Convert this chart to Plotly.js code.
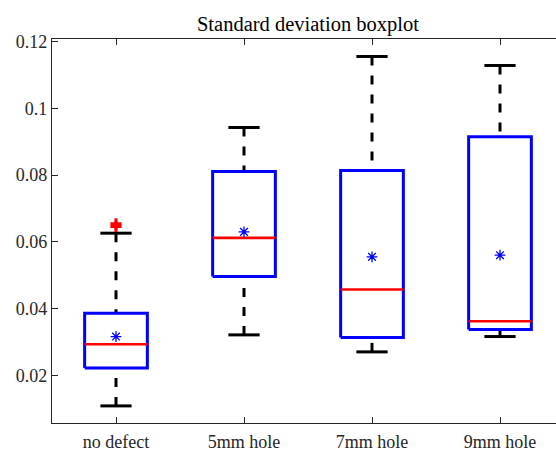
<!DOCTYPE html>
<html>
<head>
<meta charset="utf-8">
<script src="https://cdn.plot.ly/plotly-3.0.1.min.js"></script>
<style>
  html, body { margin: 0; padding: 0; background: #fff; overflow: hidden; }
  #chart { width: 565px; height: 449px; }
</style>
</head>
<body>
<div id="chart"></div>
<script>
// Groups and their five-number summaries (standard deviation of the signal)
const categories   = ['no defect', '5mm hole', '7mm hole', '9mm hole'];
const lowerWhisker = [0.0108, 0.0321, 0.0270, 0.0316];
const q1           = [0.0222, 0.0496, 0.0313, 0.0337];
const medians      = [0.0293, 0.0612, 0.0457, 0.0362];
const q3           = [0.0386, 0.0811, 0.0814, 0.0915];
const upperWhisker = [0.0626, 0.0943, 0.1156, 0.1129];
const means        = [0.0316, 0.0630, 0.0555, 0.0560];
// Outliers as [group index, value]
const outlierGroup = [0, 0];
const outlierValue = [0.0646, 0.0654];

const yTickVals  = [0.02, 0.04, 0.06, 0.08, 0.1, 0.12];
const yTickText  = ['0.02', '0.04', '0.06', '0.08', '0.1', '0.12'];

// Geometry of each box glyph, in x-axis units
const BOX_HALF = 0.245;
const CAP_HALF = 0.122;

const SERIF = 'Liberation Serif';

const pos = categories.map((_, i) => i + 1);

function segs(builder) {
  const xs = [], ys = [];
  pos.forEach((p, i) => {
    const s = builder(p, i);
    xs.push(...s.x, null);
    ys.push(...s.y, null);
  });
  return { x: xs, y: ys };
}

const whiskers = segs((p, i) => ({
  x: [p, p, null, p, p],
  y: [upperWhisker[i], q3[i], null, lowerWhisker[i], q1[i]]
}));
const boxes = segs((p, i) => ({
  x: [p - BOX_HALF, p + BOX_HALF, p + BOX_HALF, p - BOX_HALF, p - BOX_HALF],
  y: [q1[i], q1[i], q3[i], q3[i], q1[i]]
}));
const medianLines = segs((p, i) => ({
  x: [p - BOX_HALF, p + BOX_HALF],
  y: [medians[i], medians[i]]
}));
const caps = segs((p, i) => ({
  x: [p - CAP_HALF, p + CAP_HALF, null, p - CAP_HALF, p + CAP_HALF],
  y: [upperWhisker[i], upperWhisker[i], null, lowerWhisker[i], lowerWhisker[i]]
}));

const traces = [
  { type: 'scatter', mode: 'lines', x: whiskers.x, y: whiskers.y,
    line: { color: '#000', width: 3, dash: '9px,10px' }, hoverinfo: 'skip' },
  { type: 'scatter', mode: 'lines', x: boxes.x, y: boxes.y,
    line: { color: '#0000ff', width: 3 }, hoverinfo: 'skip' },
  { type: 'scatter', mode: 'lines', x: medianLines.x, y: medianLines.y,
    line: { color: '#ff0000', width: 2.6 }, hoverinfo: 'skip' },
  { type: 'scatter', mode: 'lines', x: caps.x, y: caps.y,
    line: { color: '#000', width: 3 }, hoverinfo: 'skip' },
  { type: 'scatter', mode: 'markers', x: pos, y: means,
    marker: { symbol: 'asterisk-open', size: 9, color: '#0000ff',
              line: { color: '#0000ff', width: 1.3 } } },
  { type: 'scatter', mode: 'markers',
    x: outlierGroup.map(g => pos[g]), y: outlierValue,
    marker: { symbol: 'cross-thin-open', size: 8, color: '#ff0000',
              line: { color: '#ff0000', width: 3 } } }
];

const axisCommon = {
  showline: true, linecolor: '#262626', linewidth: 1.2,
  mirror: 'ticks', ticks: 'inside', ticklen: 6, tickwidth: 1,
  tickcolor: '#262626', showgrid: false, zeroline: false,
  tickfont: { family: SERIF, size: 18, color: '#262626' }
};

const layout = {
  width: 565, height: 449,
  margin: { l: 52, r: 1, t: 39, b: 26 },
  paper_bgcolor: '#fff', plot_bgcolor: '#fff',
  font: { family: SERIF },
  showlegend: false,
  title: {
    text: 'Standard deviation boxplot',
    font: { family: SERIF, size: 20.5, color: '#000' },
    x: 0.5, xref: 'paper', y: 1 - 24 / 449, yref: 'container', yanchor: 'middle'
  },
  xaxis: Object.assign({}, axisCommon, {
    range: [0.5, 4.5], tickvals: pos, ticktext: categories, ticklabelstandoff: 2
  }),
  yaxis: Object.assign({}, axisCommon, {
    range: [0.00567, 0.12084], tickvals: yTickVals, ticktext: yTickText, ticklabelstandoff: 0
  })
};

Plotly.newPlot('chart', traces, layout, { staticPlot: true, displayModeBar: false });
</script>
</body>
</html>
